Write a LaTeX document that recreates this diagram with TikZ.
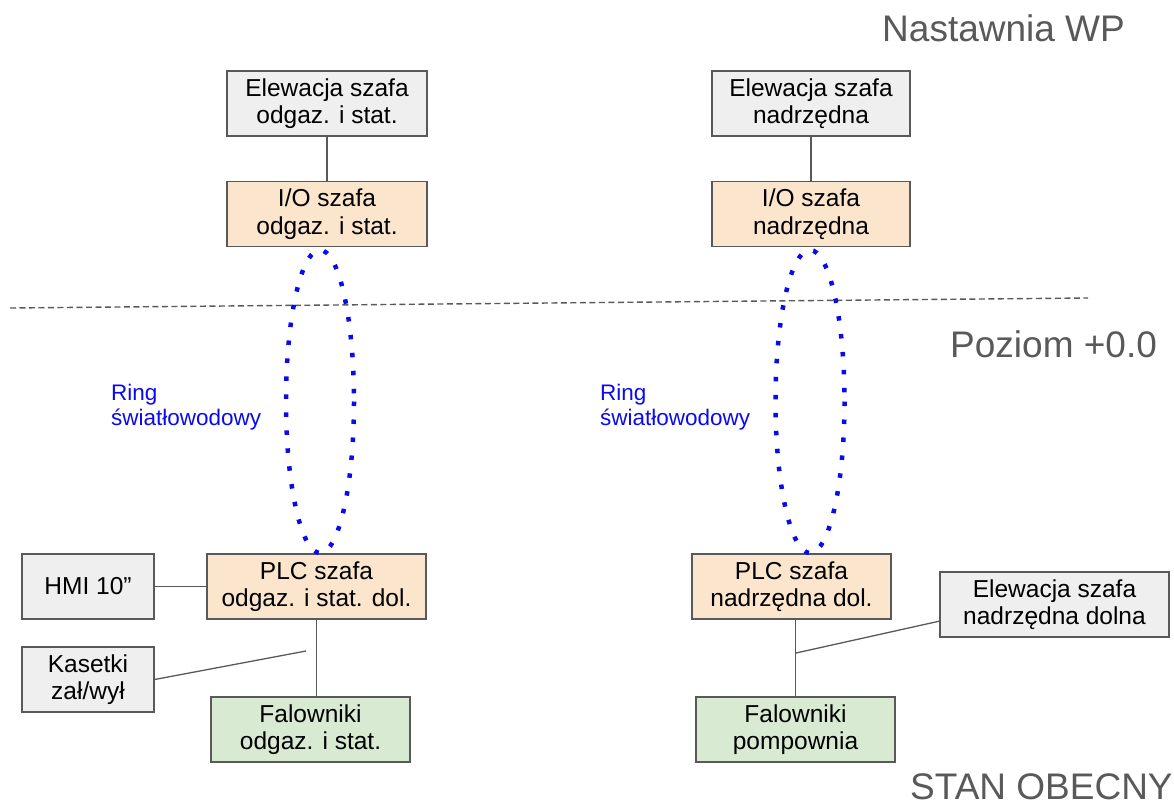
\documentclass[tikz,border=0pt]{standalone}
\usepackage{fontspec}
\setmainfont{Liberation Sans}
\definecolor{bordergray}{HTML}{595959}
\definecolor{boxgray}{HTML}{EFEFEF}
\definecolor{peach}{HTML}{FCE5CD}
\definecolor{lgreen}{HTML}{D9EAD3}
\definecolor{ringblue}{HTML}{0A0AF0}
\definecolor{labelgray}{HTML}{595959}
\begin{document}
\begin{tikzpicture}[x=1pt,y=-1pt,
  box/.style={draw=bordergray, line width=1.3pt, minimum height=65pt, inner sep=0pt,
    align=center, font=\fontsize{24.5}{27.6}\selectfont},
  grayb/.style={box, fill=boxgray},
  peachb/.style={box, fill=peach},
  greenb/.style={box, fill=lgreen},
  conn/.style={draw=bordergray, line width=1.3pt},
  ring/.style={draw=ringblue, line width=4.5pt, dash pattern=on 4.5pt off 13.5pt},
  biglabel/.style={anchor=base west, inner sep=0pt, text=labelgray, font=\fontsize{37}{40}\selectfont},
  ringlabel/.style={anchor=north west, inner sep=0pt, align=left, text=ringblue, font=\fontsize{22.5}{25}\selectfont}
]
\useasboundingbox (0,0) rectangle (1174,805);

% top-left column
\node[grayb, minimum width=200pt] (E1) at (327,103.5) {Elewacja szafa\\odgaz. i stat.};
\node[peachb, minimum width=200pt] (IO1) at (327,214) {I/O szafa\\odgaz. i stat.};
\draw[conn] (E1) -- (IO1);

% top-right column
\node[grayb, minimum width=198pt] (E2) at (811,103.5) {Elewacja szafa\\nadrzędna};
\node[peachb, minimum width=198pt] (IO2) at (811,214) {I/O szafa\\nadrzędna};
\draw[conn] (E2) -- (IO2);

% level divider
\coordinate (dL) at (10,308);
\coordinate (dR) at (1088,298);
\draw[draw=bordergray, line width=1.4pt, dash pattern=on 6pt off 3.5pt] (dL) -- (dR);

% labels
\node[biglabel] (nast) at (882,42) {Nastawnia WP};
\node[biglabel] (poz) at (950,357) {Poziom +0.0};
\node[biglabel] (stan) at (910,799) {STAN OBECNY};

% bottom-left column
\node[peachb, minimum width=219pt] (PLC1) at (316.5,586.5) {PLC szafa\\odgaz. i stat. dol.};
\node[grayb, minimum width=132pt] (HMI) at (88,586.5) {HMI 10”};
\node[grayb, minimum width=132pt] (KAS) at (88,679.5) {Kasetki\\zał/wył};
\node[greenb, minimum width=199pt] (F1) at (310.5,729.5) {Falowniki\\odgaz. i stat.};
\draw[conn] (HMI) -- (PLC1);
\draw[conn] (PLC1.south) -- (PLC1.south |- F1.north);
\coordinate (kasEnd) at (306,651);
\draw[conn] (KAS.east) -- (kasEnd);

% bottom-right column
\node[peachb, minimum width=199pt] (PLC2) at (791.5,586.5) {PLC szafa\\nadrzędna dol.};
\node[grayb, minimum width=229pt] (ED) at (1054.5,604.5) {Elewacja szafa\\nadrzędna dolna};
\node[greenb, minimum width=199pt] (F2) at (795.5,729.5) {Falowniki\\pompownia};
\draw[conn] (F2.north |- PLC2.south) -- (F2.north);
\coordinate (edJoin) at (796,653);
\coordinate (edEnd) at (940,621);
\draw[conn] (edJoin) -- (edEnd);

% fibre rings
\draw[ring] (320,401.5) ellipse [x radius=34, y radius=151.5];
\draw[ring] (810,401.5) ellipse [x radius=34.5, y radius=151.5];
\node[ringlabel] (r1) at (111,384) {Ring\\światłowodowy};
\node[ringlabel] (r2) at (600,384) {Ring\\światłowodowy};
\end{tikzpicture}
\end{document}
